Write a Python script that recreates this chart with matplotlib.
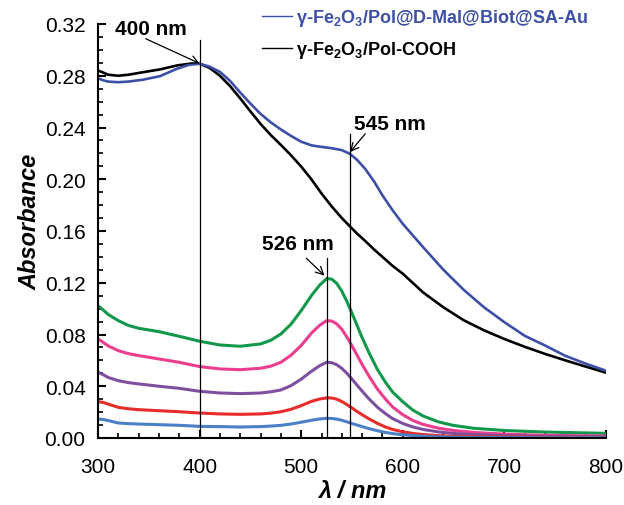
import numpy as np
import matplotlib
matplotlib.use("Agg")
from matplotlib import pyplot as plt
from matplotlib.ticker import MultipleLocator, FormatStrFormatter

# === DATA ===

wl_main = [300, 305, 310, 320, 330, 344, 361, 378, 390, 400, 410, 420, 430, 440, 450,
           460, 470, 480, 490, 500, 510, 520, 530, 540, 548, 555, 563, 572, 580, 590,
           600, 620, 640, 660, 680, 700, 720, 740, 760, 780, 800]
abs_blue = [0.278, 0.2765, 0.2755, 0.2750, 0.2755, 0.2769, 0.2797, 0.2855, 0.2885, 0.2893,
            0.2870, 0.2830, 0.2760, 0.2670, 0.2585, 0.2505, 0.2440, 0.2385, 0.2335, 0.2290,
            0.2262, 0.2250, 0.2240, 0.2225, 0.2196, 0.2150, 0.2080, 0.1980, 0.1875, 0.1760,
            0.1655, 0.1475, 0.1300, 0.1145, 0.1010, 0.0895, 0.0790, 0.0715, 0.0635, 0.0575,
            0.0520]
abs_black = [0.284, 0.2825, 0.2808, 0.2800, 0.2808, 0.2827, 0.2849, 0.2880, 0.2892, 0.2893,
             0.2860, 0.2800, 0.2720, 0.2625, 0.2525, 0.2428, 0.2342, 0.2265, 0.2185, 0.2098,
             0.2000, 0.1890, 0.1790, 0.1700, 0.1635, 0.1580, 0.1523, 0.1455, 0.1400, 0.1330,
             0.1270, 0.1125, 0.1010, 0.0910, 0.0832, 0.0765, 0.0705, 0.0650, 0.0600, 0.0552,
             0.0505]

wl_au = [300, 305, 310, 320, 330, 340, 360, 380, 400, 420, 440, 460, 470, 480, 490,
         500, 510, 518, 525, 530, 535, 540, 545, 550, 555, 560, 567, 575, 583, 590,
         600, 610, 620, 635, 650, 670, 700, 740, 800]
abs_green = [0.1023, 0.0990, 0.0955, 0.0907, 0.0870, 0.0848, 0.0822, 0.0786, 0.0748, 0.0719,
             0.0709, 0.0727, 0.0755, 0.0804, 0.0880, 0.0985, 0.1100, 0.1180, 0.1232, 0.1228,
             0.1195, 0.1135, 0.1055, 0.0965, 0.0870, 0.0775, 0.0655, 0.0530, 0.0430, 0.0355,
             0.0280, 0.0215, 0.0170, 0.0125, 0.0097, 0.0075, 0.0058, 0.0046, 0.0036]
abs_pink = [0.0766, 0.0740, 0.0712, 0.0675, 0.0652, 0.0637, 0.0611, 0.0585, 0.0552, 0.0534,
            0.0528, 0.0539, 0.0555, 0.0585, 0.0640, 0.0715, 0.0810, 0.0870, 0.0907, 0.0904,
            0.0882, 0.0840, 0.0780, 0.0712, 0.0640, 0.0568, 0.0475, 0.0378, 0.0300, 0.0240,
            0.0180, 0.0135, 0.0105, 0.0076, 0.0058, 0.0043, 0.0030, 0.0021, 0.0015]
abs_purple = [0.0508, 0.0490, 0.0468, 0.0443, 0.0428, 0.0418, 0.0400, 0.0384, 0.0361, 0.0348,
              0.0343, 0.0348, 0.0357, 0.0371, 0.0405, 0.0455, 0.0515, 0.0558, 0.0585, 0.0582,
              0.0566, 0.0538, 0.0500, 0.0455, 0.0408, 0.0362, 0.0300, 0.0238, 0.0188, 0.0150,
              0.0112, 0.0085, 0.0066, 0.0047, 0.0035, 0.0026, 0.0018, 0.0013, 0.0010]
abs_red = [0.0281, 0.0275, 0.0262, 0.0237, 0.0226, 0.0219, 0.0211, 0.0203, 0.0193, 0.0186,
           0.0183, 0.0186, 0.0192, 0.0203, 0.0222, 0.0250, 0.0283, 0.0301, 0.0310, 0.0309,
           0.0300, 0.0282, 0.0258, 0.0232, 0.0205, 0.0180, 0.0147, 0.0113, 0.0085, 0.0066,
           0.0048, 0.0035, 0.0027, 0.0018, 0.0013, 0.0010, 0.0008, 0.0006, 0.0005]
abs_ltblue = [0.0147, 0.0143, 0.0135, 0.0116, 0.0111, 0.0108, 0.0103, 0.0098, 0.0090, 0.0088,
              0.0085, 0.0088, 0.0092, 0.0098, 0.0108, 0.0122, 0.0137, 0.0147, 0.0152, 0.0151,
              0.0146, 0.0137, 0.0125, 0.0112, 0.0100, 0.0088, 0.0072, 0.0056, 0.0043, 0.0034,
              0.0025, 0.0019, 0.0014, 0.0009, 0.0006, 0.0004, 0.0003, 0.0002, 0.0002]

legend_labels = [r"γ-Fe$_2$O$_3$/Pol@D-Mal@Biot@SA-Au", r"γ-Fe$_2$O$_3$/Pol-COOH"]

# marker lines: (wavelength, top of line)
marks = [(400, 0.308), (525, 0.139), (548, 0.235)]

# === STYLE ===

plt.rcParams['font.family'] = ['Liberation Sans', 'DejaVu Sans']
plt.rcParams['mathtext.fontset'] = 'custom'
plt.rcParams['mathtext.rm'] = 'Liberation Sans:bold'
plt.rcParams['mathtext.bf'] = 'Liberation Sans:bold'
plt.rcParams['mathtext.default'] = 'bf'

c_blue = '#3d4fa6'
c_green = '#11984a'
c_pink = '#ec3e8e'
c_purple = '#7f4f9f'
c_red = '#e82c2a'
c_ltblue = '#4a80c8'

fig = plt.figure(figsize=(6.24, 5.06), dpi=100)
ax = fig.add_axes([98 / 624, 67 / 506, 508 / 624, 414 / 506])

# lower spectra
ax.plot(wl_au, abs_green, color=c_green, lw=2.2)
ax.plot(wl_au, abs_pink, color=c_pink, lw=2.2)
ax.plot(wl_au, abs_purple, color=c_purple, lw=2.2)
ax.plot(wl_au, abs_red, color=c_red, lw=2.2)
ax.plot(wl_au, abs_ltblue, color=c_ltblue, lw=2.2)

# main spectra
ax.plot(wl_main, abs_black, color='black', lw=1.9)
ax.plot(wl_main, abs_blue, color=c_blue, lw=1.9)

# vertical marker lines
for wl, top in marks:
    ax.plot([wl, wl], [0, top], color='black', lw=0.9)

# annotations
arrow = dict(arrowstyle='->', color='black', lw=0.9, shrinkA=0, shrinkB=0, mutation_scale=14)
ax.annotate('', xy=(400, 0.2895), xytext=(347, 0.3086), arrowprops=arrow)
ax.text(352, 0.3163, '400 nm', ha='center', va='center', fontsize=15, fontweight='bold')
ax.annotate('', xy=(548, 0.221), xytext=(563, 0.2351), arrowprops=arrow)
ax.text(587, 0.243, '545 nm', ha='center', va='center', fontsize=15, fontweight='bold')
ax.annotate('', xy=(523, 0.1255), xytext=(505, 0.139), arrowprops=arrow)
ax.text(497, 0.150, '526 nm', ha='center', va='center', fontsize=15, fontweight='bold')

# legend
h1, = ax.plot([], [], color=c_blue, lw=1.0)
h2, = ax.plot([], [], color='black', lw=1.0)
leg = ax.legend([h1, h2], legend_labels, loc='upper left',
                bbox_to_anchor=(262 / 624, 1 - 8 / 506), bbox_transform=fig.transFigure,
                frameon=False, handlelength=1.65, handletextpad=0.25,
                labelspacing=0.6, borderpad=0, borderaxespad=0,
                prop={'weight': 'bold', 'size': 13})
leg.get_texts()[0].set_color(c_blue)

# axes
ax.set_xlim(300, 800)
ax.set_ylim(0, 0.32)
ax.spines['top'].set_visible(False)
ax.spines['right'].set_visible(False)
ax.spines['left'].set_linewidth(1.5)
ax.spines['bottom'].set_linewidth(1.5)

ax.xaxis.set_major_locator(MultipleLocator(100))
ax.xaxis.set_minor_locator(MultipleLocator(20))
ax.yaxis.set_major_locator(MultipleLocator(0.04))
ax.yaxis.set_minor_locator(MultipleLocator(0.01))
ax.yaxis.set_major_formatter(FormatStrFormatter('%.2f'))
ax.tick_params(which='major', direction='in', length=6, width=1.5, labelsize=15, pad=9)
ax.tick_params(which='minor', direction='in', length=3.5, width=1.2)
ax.tick_params(axis='x', which='major', pad=14)

ax.set_xlabel('λ / nm', fontsize=17, fontweight='bold', fontstyle='italic', labelpad=2)
ax.set_ylabel('Absorbance', fontsize=17, fontweight='bold', fontstyle='italic')
ax.yaxis.set_label_coords(-0.112, 0.524)

fig.savefig('out.png', dpi=100)
